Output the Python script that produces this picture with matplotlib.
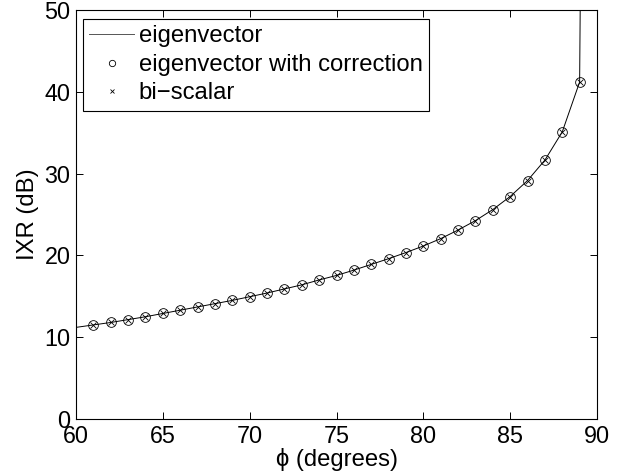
import matplotlib
matplotlib.use("Agg")
import matplotlib.pyplot as plt

plt.rcParams['font.family'] = ['Liberation Sans', 'DejaVu Sans']

# continuous curve (eigenvector)
line_phi = [60, 61, 62, 63, 64, 65, 66, 67, 68, 69, 70, 71, 72, 73, 74, 75,
            76, 77, 78, 79, 80, 81, 82, 83, 84, 85, 86, 87, 88, 89, 90]
line_ixr = [11.2, 11.5, 11.8, 12.15, 12.5, 12.9, 13.3, 13.7, 14.1, 14.5, 14.95,
            15.4, 15.9, 16.4, 17.0, 17.55, 18.2, 18.9, 19.6, 20.35, 21.15,
            22.05, 23.1, 24.25, 25.6, 27.2, 29.15, 31.65, 35.1, 41.2, 320.0]

# marker series
mark_phi = [61, 62, 63, 64, 65, 66, 67, 68, 69, 70, 71, 72, 73, 74, 75,
            76, 77, 78, 79, 80, 81, 82, 83, 84, 85, 86, 87, 88, 89]
corr_ixr = [11.5, 11.8, 12.15, 12.5, 12.9, 13.3, 13.7, 14.1, 14.5, 14.95,
            15.4, 15.9, 16.4, 17.0, 17.55, 18.2, 18.9, 19.6, 20.35, 21.15,
            22.05, 23.1, 24.25, 25.6, 27.2, 29.15, 31.65, 35.1, 41.2]
bisc_ixr = [11.5, 11.8, 12.15, 12.5, 12.9, 13.3, 13.7, 14.1, 14.5, 14.95,
            15.4, 15.9, 16.4, 17.0, 17.55, 18.2, 18.9, 19.6, 20.35, 21.15,
            22.05, 23.1, 24.25, 25.6, 27.2, 29.15, 31.65, 35.1, 41.2]

x_ticks = [60, 65, 70, 75, 80, 85, 90]
y_ticks = [0, 10, 20, 30, 40, 50]

fig = plt.figure(figsize=(6.26, 4.76), dpi=100)
ax = fig.add_axes([76/626, 57/476, 521/626, 409/476])

ax.plot(line_phi, line_ixr, color='black', lw=0.7, label='eigenvector')
ax.plot(mark_phi, corr_ixr, linestyle='none', marker='o', ms=7, mfc='none',
        mec='black', mew=0.6, label='eigenvector with correction')
ax.plot(mark_phi, bisc_ixr, linestyle='none', marker='x', ms=5,
        mec='black', mew=0.6, label='bi\u2212scalar')

ax.set_xlim(60, 90)
ax.set_ylim(0, 50)
ax.set_xticks(x_ticks)
ax.set_yticks(y_ticks)
ax.tick_params(direction='in', top=True, right=True, length=5, width=0.7,
               labelsize=16.8, pad=4)
for s in ax.spines.values():
    s.set_linewidth(0.8)

ax.set_xlabel('\u03d5 (degrees)', fontsize=17.2, labelpad=0)
ax.set_ylabel('IXR (dB)', fontsize=17.2, labelpad=4)

leg = ax.legend(loc='upper left', bbox_to_anchor=(7/521, 1 - 9/409),
                borderaxespad=0, fontsize=17.2, frameon=True, fancybox=False,
                edgecolor='black', framealpha=1, handlelength=1.85,
                handletextpad=0.22, labelspacing=0.27, borderpad=0.27,
                markerscale=0.65)
leg.get_frame().set_linewidth(0.8)
leg.get_lines()[0].set_color('#555555')

fig.savefig('out.png', dpi=100)
